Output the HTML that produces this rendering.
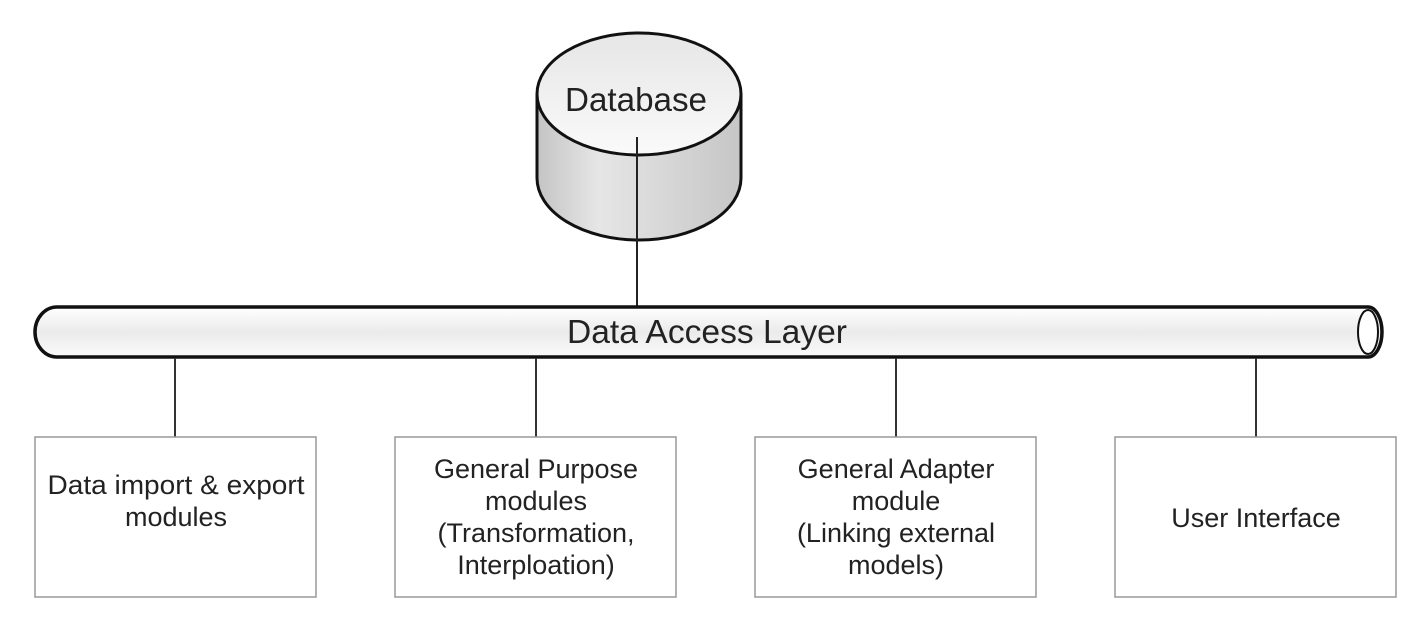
<!DOCTYPE html>
<html><head><meta charset="utf-8"><style>
body{margin:0;background:#fff}
svg{display:block}
text{font-family:"Liberation Sans",Arial,sans-serif;fill:#222}
</style></head><body>
<svg width="1418" height="620" viewBox="0 0 1418 620" xmlns="http://www.w3.org/2000/svg">
<defs>
<linearGradient id="cyl" x1="0" y1="0" x2="1" y2="0">
<stop offset="0" stop-color="#c4c4c4"/><stop offset="0.3" stop-color="#e6e6e6"/><stop offset="1" stop-color="#c6c6c6"/>
</linearGradient>
<linearGradient id="top" x1="0" y1="0" x2="0" y2="1">
<stop offset="0" stop-color="#e6e6e6"/><stop offset="1" stop-color="#fafafa"/>
</linearGradient>
<linearGradient id="pipe" x1="0" y1="0" x2="0" y2="1">
<stop offset="0" stop-color="#ffffff"/><stop offset="0.5" stop-color="#ebebeb"/><stop offset="1" stop-color="#fafafa"/>
</linearGradient>
</defs>
<path d="M537 95 L537 178 A102 62 0 0 0 741 178 L741 95 Z" fill="url(#cyl)" stroke="#111" stroke-width="3"/>
<ellipse cx="639" cy="94" rx="102" ry="61" fill="url(#top)" stroke="#111" stroke-width="3"/>
<text x="636" y="111" font-size="33" text-anchor="middle" textLength="142" lengthAdjust="spacingAndGlyphs">Database</text>
<line x1="637" y1="137" x2="637" y2="307" stroke="#222" stroke-width="2"/>
<path d="M57 307 L1368 307 A14 25 0 0 1 1368 357 L57 357 A22 25 0 0 1 57 307 Z" fill="url(#pipe)" stroke="#111" stroke-width="3.5"/>
<ellipse cx="1368" cy="332" rx="10" ry="22" fill="#fff" stroke="#111" stroke-width="2"/>
<text x="707" y="343" font-size="33" text-anchor="middle" textLength="280" lengthAdjust="spacingAndGlyphs">Data Access Layer</text>
<g stroke="#333" stroke-width="2">
<line x1="175" y1="358" x2="175" y2="437"/>
<line x1="536" y1="358" x2="536" y2="437"/>
<line x1="896" y1="358" x2="896" y2="437"/>
<line x1="1256" y1="358" x2="1256" y2="437"/>
</g>
<g fill="#fff" stroke="#999" stroke-width="1.5">
<rect x="35" y="437" width="281" height="160"/>
<rect x="395" y="437" width="281" height="160"/>
<rect x="755" y="437" width="281" height="160"/>
<rect x="1115" y="437" width="281" height="160"/>
</g>
<g font-size="27" text-anchor="middle">
<text x="176" y="494" textLength="257" lengthAdjust="spacingAndGlyphs">Data import &amp; export</text>
<text x="176" y="526">modules</text>
<text x="536" y="478">General Purpose</text>
<text x="536" y="510">modules</text>
<text x="536" y="542">(Transformation,</text>
<text x="536" y="574">Interploation)</text>
<text x="896" y="478">General Adapter</text>
<text x="896" y="510">module</text>
<text x="896" y="542">(Linking external</text>
<text x="896" y="574">models)</text>
<text x="1256" y="527">User Interface</text>
</g>
</svg>
</body></html>
